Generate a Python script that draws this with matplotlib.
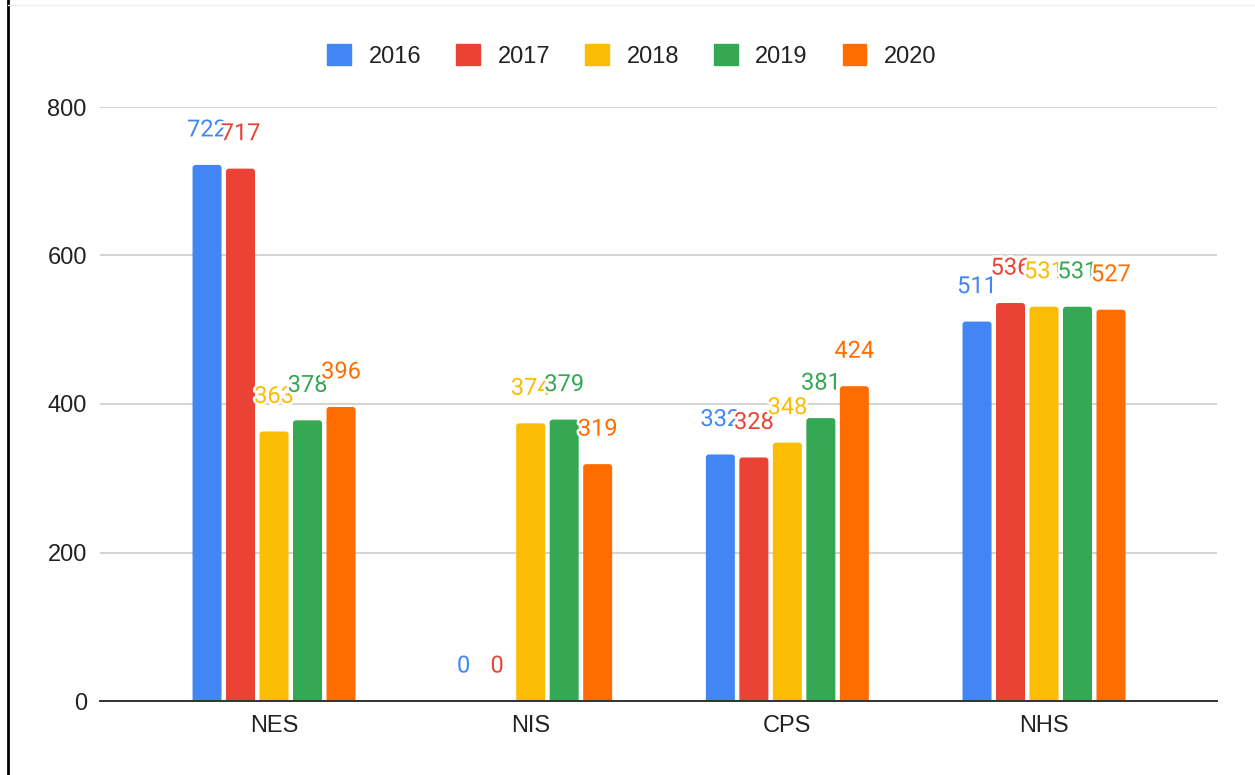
import matplotlib
matplotlib.use("Agg")
import matplotlib.pyplot as plt
import matplotlib.patheffects as pe
from matplotlib.lines import Line2D
from matplotlib.patches import FancyBboxPatch
import numpy as np

categories = ["NES", "NIS", "CPS", "NHS"]
years = ["2016", "2017", "2018", "2019", "2020"]
v2016 = [722, 0, 332, 511]
v2017 = [717, 0, 328, 536]
v2018 = [363, 374, 348, 531]
v2019 = [378, 379, 381, 531]
v2020 = [396, 319, 424, 527]
series = [v2016, v2017, v2018, v2019, v2020]
colors = ["#4285F4", "#EA4335", "#FBBC04", "#34A853", "#FF6D01"]
yticks = [0, 200, 400, 600, 800]

plt.rcParams['font.family'] = ['Liberation Sans', 'DejaVu Sans']

fig = plt.figure(figsize=(12.55, 7.75), dpi=100)
W, H = 1255, 775
ax = fig.add_axes([100 / W, (H - 701) / H, (1217 - 100) / W, (701 - 107) / H])

x = np.arange(len(categories))
step = 0.1305
width = 0.113
ax.set_xlim(-0.678, 3.674)
ax.set_ylim(0, 800)

# pixel/unit conversion for rounded corners
px_x = (1217 - 100) / (3.674 + 0.678)
px_y = (701 - 107) / 800.0
r_px = 3.0

for i, (vals, c) in enumerate(zip(series, colors)):
    off = (i - 2) * step
    bars = ax.bar(x + off, vals, width=width, color=c, zorder=2, label=years[i])
    for rect in bars:
        h = rect.get_height()
        rect.set_visible(False)
        if h <= 0:
            continue
        fb = FancyBboxPatch((rect.get_x(), -10), rect.get_width(), h + 10,
                            boxstyle=f"round,pad=0,rounding_size={r_px / px_x}",
                            mutation_aspect=px_x / px_y,
                            facecolor=c, edgecolor="none", zorder=2)
        ax.add_patch(fb)
    for xi, v in zip(x, vals):
        ax.annotate(str(v), (xi + off, v), xytext=(0, 20.5), textcoords="offset points",
                    ha="center", va="baseline", color=c, fontsize=17, zorder=4,
                    family=['Roboto', 'DejaVu Sans'],
                    path_effects=[pe.withStroke(linewidth=3.5, foreground="white")])

ax.set_yticks(yticks)
ax.set_xticks(x)
ax.set_xticklabels(categories)
ax.tick_params(axis="both", length=0, labelsize=17, colors="#222222")
ax.tick_params(axis="y", pad=9.5)
ax.tick_params(axis="x", pad=10)
ax.grid(axis="y", color="#CCCCCC", linewidth=1.2, zorder=0)
for s in ["top", "right", "left"]:
    ax.spines[s].set_visible(False)
ax.spines["bottom"].set_color("#333333")
ax.spines["bottom"].set_linewidth(1.4)
ax.spines["bottom"].set_zorder(3)

handles = [plt.Rectangle((0, 0), 1, 1, color=c) for c in colors]
fig.legend(handles, years, loc="center", bbox_to_anchor=(632 / W, 1 - 56 / H), ncol=5,
           frameon=False, fontsize=17, handlelength=1.0, handleheight=1.0,
           handletextpad=0.75, columnspacing=1.48, labelcolor="#222222")

fig.add_artist(Line2D([8 / W, 8 / W], [0, 1], color="black", linewidth=2))
fig.add_artist(Line2D([8 / W, 1], [1 - 5 / H, 1 - 5 / H], color="#EEEEEE", linewidth=1))

fig.savefig("out.png", dpi=100)
